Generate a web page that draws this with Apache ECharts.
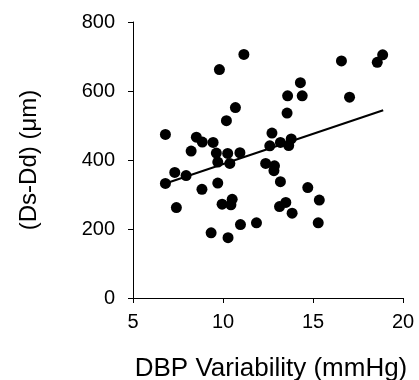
<!DOCTYPE html>
<html>
<head>
<meta charset="utf-8">
<script src="https://cdn.jsdelivr.net/npm/echarts@6/dist/echarts.min.js"></script>
<style>html,body{margin:0;padding:0;background:#fff}#c{width:419px;height:380px}</style>
</head>
<body>
<div id="c"></div>
<script>
const xValues = [6.80,6.80,7.32,7.41,7.95,8.23,8.52,8.85,9.45,8.83,9.34,9.63,9.71,9.71,9.80,9.95,10.19,10.26,10.28,10.38,10.44,10.51,10.69,10.94,10.97,11.16,11.86,12.37,12.60,12.72,12.86,12.83,13.19,13.19,13.14,13.49,13.56,13.59,13.65,13.79,13.84,14.30,14.40,14.71,15.35,15.29,16.58,17.03,18.57,18.87];
const yValues = [474,332,364,262,355,426,466,452,451,315,189,420,394,333,662,272,514,419,175,390,270,286,552,421,213,706,218,390,441,478,383,369,451,337,265,277,536,586,442,461,246,624,586,320,284,218,687,582,683,705];
const fitX = [6.8, 18.9];
const fitY = [332, 544];
const xTicks = [5, 10, 15, 20];
const yTicks = [0, 200, 400, 600, 800];

const chart = echarts.init(document.getElementById('c'));
const font = 'Liberation Sans, Arial, sans-serif';
chart.setOption({
  animation: false,
  grid: {left: 133, right: 16, top: 22, bottom: 82, containLabel: false, outerBoundsMode: 'none'},
  xAxis: {
    type: 'value', min: xTicks[0], max: xTicks[xTicks.length-1], interval: 5,
    name: 'DBP Variability (mmHg)', nameLocation: 'middle', nameGap: 58,
    nameTextStyle: {fontFamily: font, fontSize: 26, color: '#000', padding: [0, 0, 0, 6]},
    axisLine: {lineStyle: {color: '#000', width: 1}},
    axisTick: {show: true, length: 5, lineStyle: {color: '#000'}},
    axisLabel: {fontFamily: font, fontSize: 20, color: '#000', margin: 14},
    splitLine: {show: false}
  },
  yAxis: {
    type: 'value', min: yTicks[0], max: yTicks[yTicks.length-1], interval: 200,
    name: '(Ds-Dd) (μm)', nameLocation: 'middle', nameGap: 92, nameRotate: 90,
    nameTextStyle: {fontFamily: font, fontSize: 24, color: '#000'},
    axisLine: {show: true, lineStyle: {color: '#000', width: 1}},
    axisTick: {show: true, length: 5, lineStyle: {color: '#000'}},
    axisLabel: {fontFamily: font, fontSize: 20, color: '#000', margin: 18},
    splitLine: {show: false}
  },
  series: [
    {type: 'scatter', symbol: 'circle', symbolSize: 11,
     itemStyle: {color: '#000', opacity: 1},
     data: xValues.map((x, i) => [x, yValues[i]])},
    {type: 'line', symbol: 'none', lineStyle: {color: '#000', width: 2},
     data: fitX.map((x, i) => [x, fitY[i]])}
  ]
});
</script>
</body>
</html>
